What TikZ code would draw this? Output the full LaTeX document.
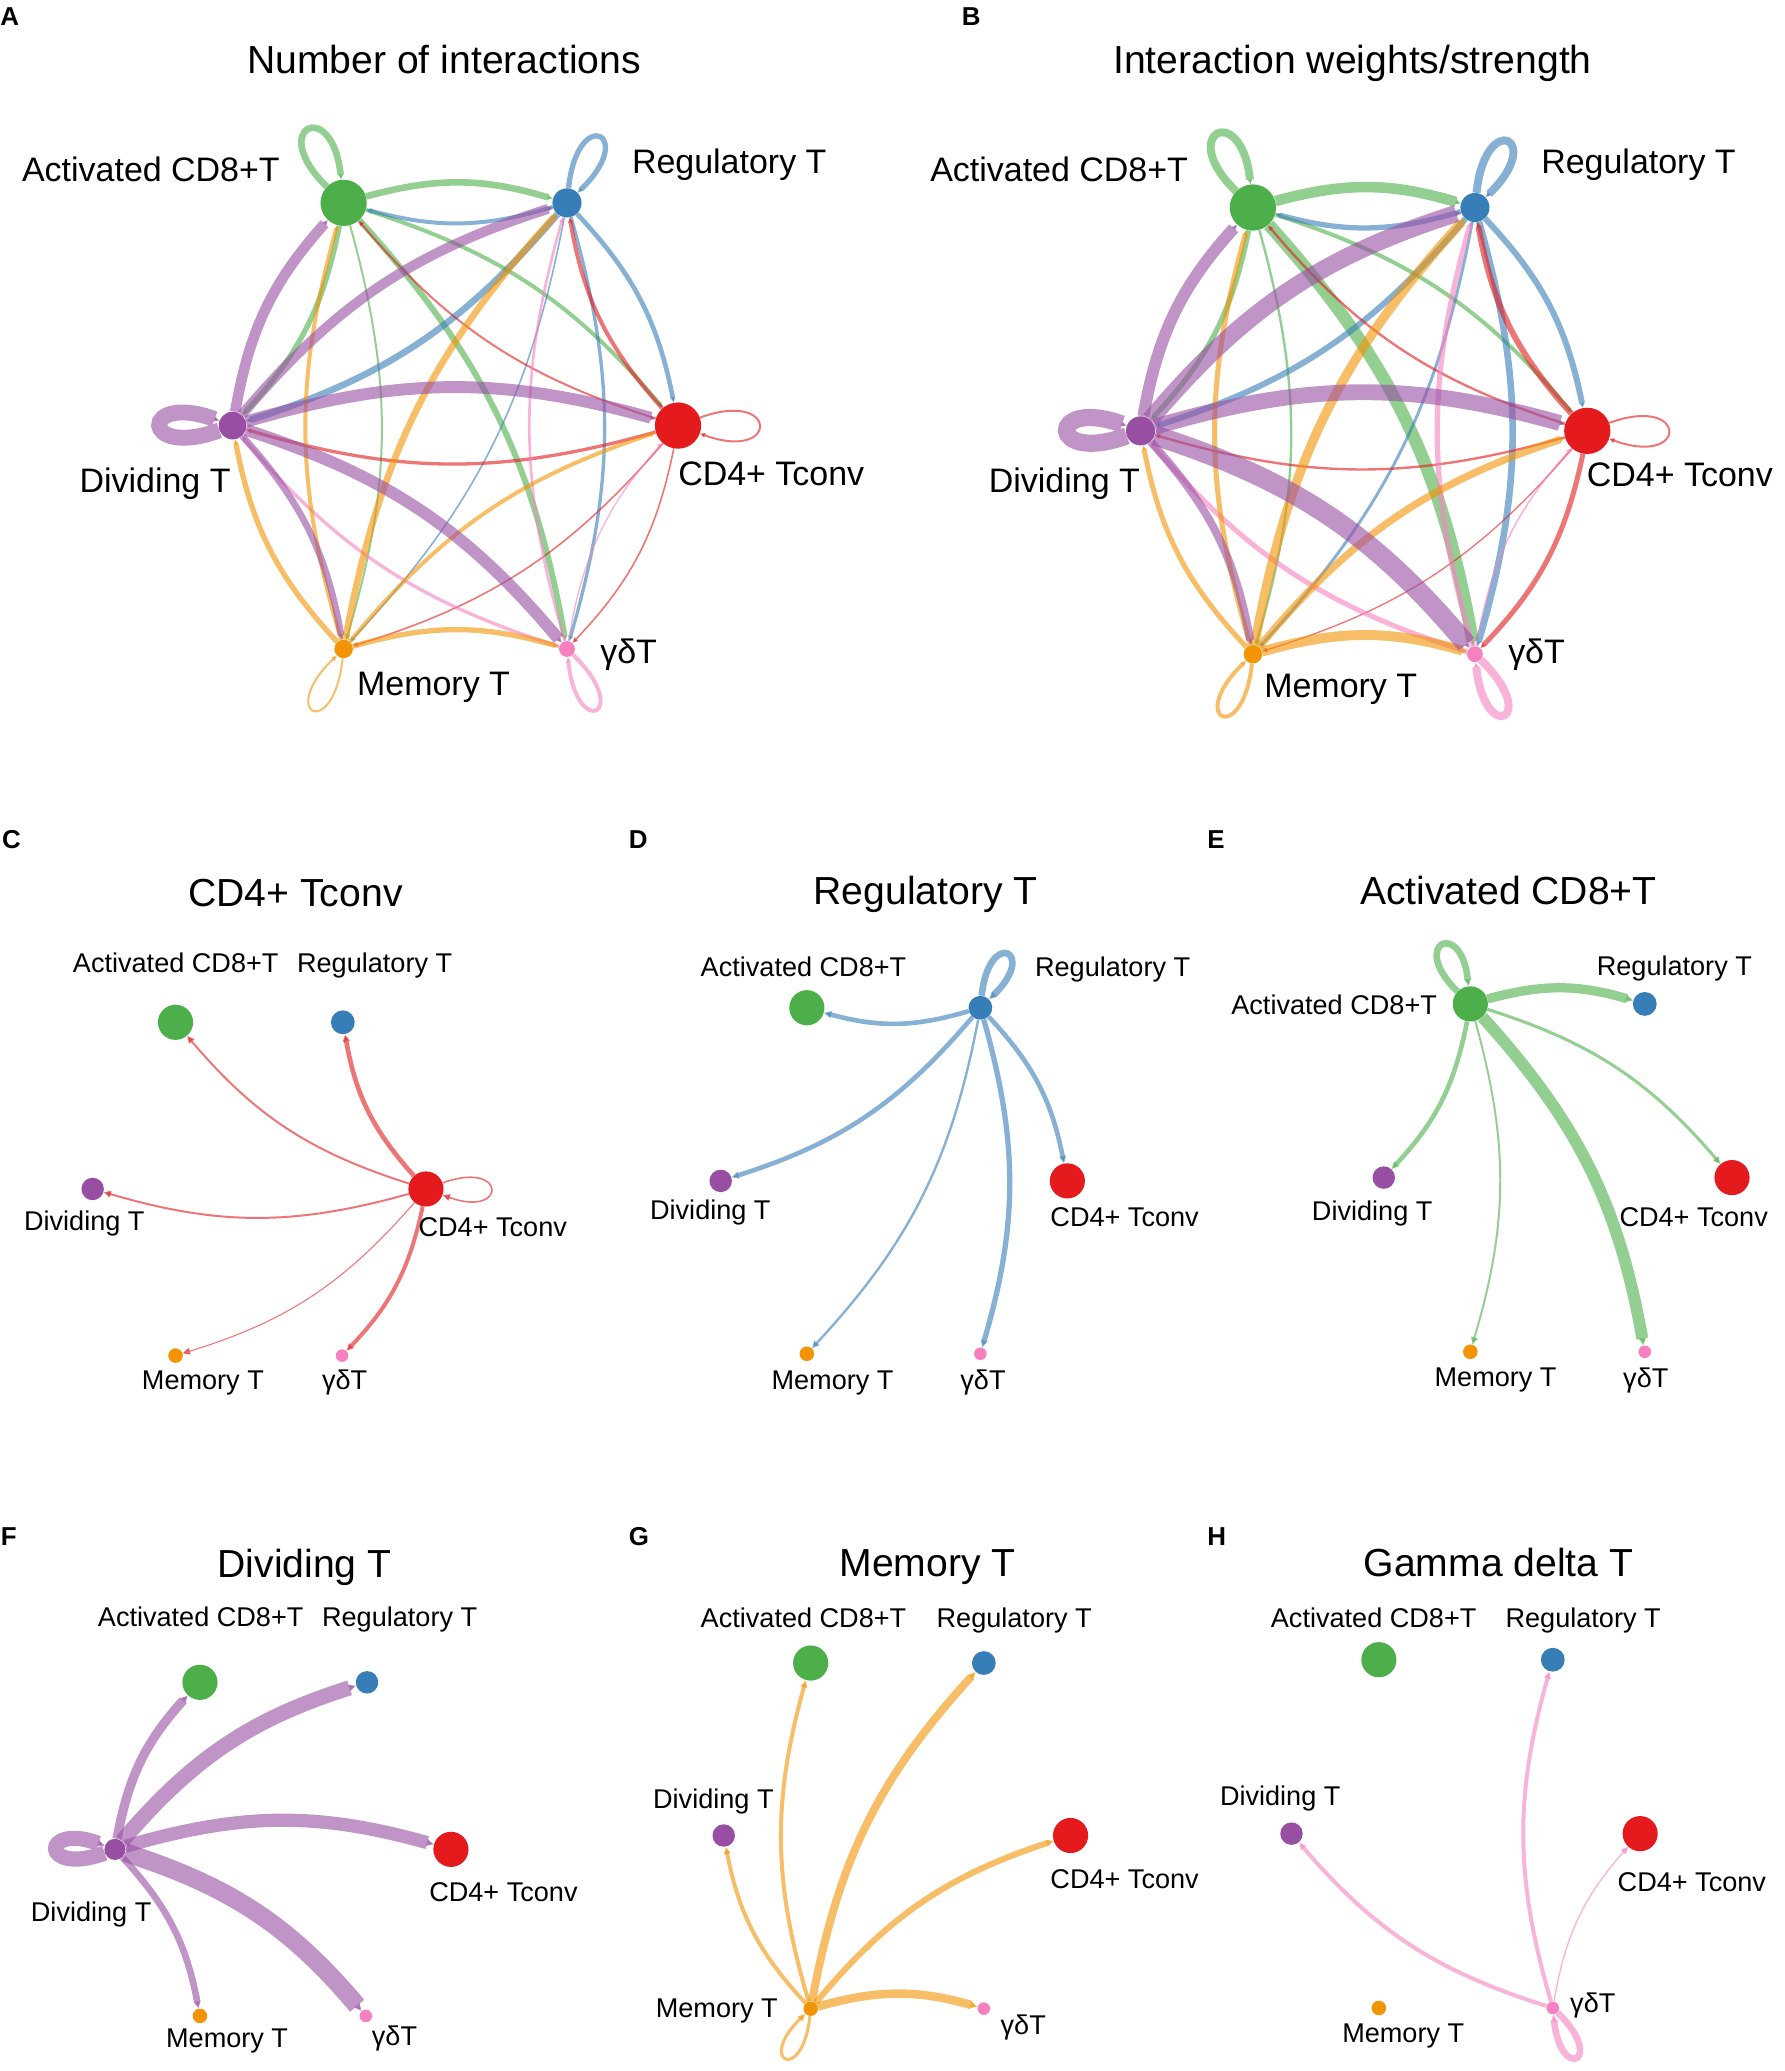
\documentclass[tikz,border=0pt]{standalone}
\usepackage{fontspec}
\setmainfont{Liberation Sans}
\usetikzlibrary{arrows.meta,backgrounds}

\definecolor{colCD8}{HTML}{4DAF4A}
\definecolor{colTreg}{HTML}{377EB8}
\definecolor{colCD4}{HTML}{E41A1C}
\definecolor{colDiv}{HTML}{984EA3}
\definecolor{colMem}{HTML}{F29403}
\definecolor{colGD}{HTML}{F781BF}

\tikzset{
  cell/.style={circle, inner sep=0pt, draw=none},
  biglab/.style={anchor=base west, inner sep=0pt, font=\fontsize{25.7}{30}\selectfont},
  lab/.style={anchor=base west, inner sep=0pt, font=\fontsize{20.5}{24}\selectfont},
  paneltitle/.style={anchor=base, inner sep=0pt, font=\fontsize{29.6}{34}\selectfont},
  panelletter/.style={anchor=base west, inner sep=0pt, font=\bfseries\fontsize{19.6}{22}\selectfont},
  link/.style={opacity=0.6, bend left=16, -{Triangle[length=4pt,width=3.5pt]}},
  slink/.style={opacity=0.6, bend left=16, -{Triangle[length=5.5pt,width=5pt]}},
  selfloop/.style={opacity=0.6, min distance=64pt, -{Triangle[length=4pt,width=3.5pt]}},
  sselfloop/.style={opacity=0.6, min distance=52pt, -{Triangle[length=5.5pt,width=5pt]}}
}

\begin{document}
\begin{tikzpicture}[x=1pt,y=1pt]
\useasboundingbox (0,0) rectangle (1350,-1567);

%%%%%%%%%%%%%%%% Panel A : Number of interactions
\node[cell, fill=colCD8, minimum size=35pt] (a-cd8) at (260,-153.5) {};
\node[cell, fill=colTreg, minimum size=22pt] (a-treg) at (429,-153.5) {};
\node[cell, fill=colCD4, minimum size=35pt] (a-cd4) at (513,-322) {};
\node[cell, fill=colGD, minimum size=12pt] (a-gd) at (429,-491) {};
\node[cell, fill=colMem, minimum size=14pt] (a-mem) at (260,-491) {};
\node[cell, fill=colDiv, minimum size=21pt] (a-div) at (176,-322) {};
% Text Node
\node[panelletter] (a-letter) at (0,-19.4) {A};
\node[paneltitle] (a-title) at (336,-55.7) {Number of interactions};
\node[biglab] (a-cd8-lab) at (16.5,-137.3) {Activated CD8+T};
\node[biglab] (a-treg-lab) at (478,-131.3) {Regulatory T};
\node[biglab] (a-cd4-lab) at (513,-367.3) {CD4+ Tconv};
\node[biglab] (a-div-lab) at (60,-372.3) {Dividing T};
\node[biglab] (a-mem-lab) at (270,-526.3) {Memory T};
\node[biglab] (a-gd-lab) at (454,-502.3) {γδT};

%%%%%%%%%%%%%%%% Panel B : Interaction weights/strength
\node[cell, fill=colCD8, minimum size=35pt] (b-cd8) at (948,-157) {};
\node[cell, fill=colTreg, minimum size=22pt] (b-treg) at (1116,-157) {};
\node[cell, fill=colCD4, minimum size=35pt] (b-cd4) at (1201,-326) {};
\node[cell, fill=colGD, minimum size=12pt] (b-gd) at (1116,-495) {};
\node[cell, fill=colMem, minimum size=14pt] (b-mem) at (948,-495) {};
\node[cell, fill=colDiv, minimum size=22pt] (b-div) at (863,-326) {};
% Text Node
\node[panelletter] (b-letter) at (727.5,-19.4) {B};
\node[paneltitle] (b-title) at (1023.4,-55.7) {Interaction weights/strength};
\node[biglab] (b-cd8-lab) at (703.7,-137.3) {Activated CD8+T};
\node[biglab] (b-treg-lab) at (1166,-131.3) {Regulatory T};
\node[biglab] (b-cd4-lab) at (1200.5,-368) {CD4+ Tconv};
\node[biglab] (b-div-lab) at (748,-372.3) {Dividing T};
\node[biglab] (b-mem-lab) at (956.4,-528) {Memory T};
\node[biglab] (b-gd-lab) at (1141,-502.3) {γδT};

%%%%%%%%%%%%%%%% Panel C : CD4+ Tconv
\node[cell, fill=colCD8, minimum size=26.6pt] (c-cd8) at (132.8,-773.5) {};
\node[cell, fill=colTreg, minimum size=18pt] (c-treg) at (259.4,-773.5) {};
\node[cell, fill=colCD4, minimum size=26.6pt] (c-cd4) at (322.3,-899.6) {};
\node[cell, fill=colGD, minimum size=9.5pt] (c-gd) at (258.8,-1025.7) {};
\node[cell, fill=colMem, minimum size=11pt] (c-mem) at (132.8,-1025.7) {};
\node[cell, fill=colDiv, minimum size=17pt] (c-div) at (70.1,-899.6) {};
% Text Node
\node[panelletter] (c-letter) at (1.5,-642.2) {C};
\node[paneltitle] (c-title) at (223.6,-686.2) {CD4+ Tconv};
\node[lab] (c-cd8-lab) at (55,-735.6) {Activated CD8+T};
\node[lab] (c-treg-lab) at (224.6,-735.6) {Regulatory T};
\node[lab] (c-div-lab) at (18,-930.7) {Dividing T};
\node[lab] (c-cd4-lab) at (316.5,-935.6) {CD4+ Tconv};
\node[lab] (c-mem-lab) at (107.2,-1051) {Memory T};
\node[lab] (c-gd-lab) at (243.5,-1051.6) {γδT};

%%%%%%%%%%%%%%%% Panel D : Regulatory T
\node[cell, fill=colCD8, minimum size=26.6pt] (d-cd8) at (610.5,-762.5) {};
\node[cell, fill=colTreg, minimum size=18pt] (d-treg) at (741.8,-762.5) {};
\node[cell, fill=colCD4, minimum size=26.6pt] (d-cd4) at (807.6,-893.5) {};
\node[cell, fill=colGD, minimum size=9.5pt] (d-gd) at (741.8,-1024.3) {};
\node[cell, fill=colMem, minimum size=11pt] (d-mem) at (610.5,-1024.3) {};
\node[cell, fill=colDiv, minimum size=17pt] (d-div) at (545.3,-893.5) {};
% Text Node
\node[panelletter] (d-letter) at (475.7,-642.2) {D};
\node[paneltitle] (d-title) at (700.4,-684.6) {Regulatory T};
\node[lab] (d-cd8-lab) at (530,-738.8) {Activated CD8+T};
\node[lab] (d-treg-lab) at (783,-738.8) {Regulatory T};
\node[lab] (d-div-lab) at (491.7,-922.9) {Dividing T};
\node[lab] (d-cd4-lab) at (794.6,-927.8) {CD4+ Tconv};
\node[lab] (d-mem-lab) at (583.6,-1051) {Memory T};
\node[lab] (d-gd-lab) at (726.5,-1051.6) {γδT};

%%%%%%%%%%%%%%%% Panel E : Activated CD8+T
\node[cell, fill=colCD8, minimum size=26.6pt] (e-cd8) at (1112.5,-759.6) {};
\node[cell, fill=colTreg, minimum size=18pt] (e-treg) at (1244.5,-759.6) {};
\node[cell, fill=colCD4, minimum size=26.6pt] (e-cd4) at (1310.5,-891) {};
\node[cell, fill=colGD, minimum size=9.5pt] (e-gd) at (1244.5,-1022.8) {};
\node[cell, fill=colMem, minimum size=11pt] (e-mem) at (1112.5,-1022.8) {};
\node[cell, fill=colDiv, minimum size=17pt] (e-div) at (1047,-891) {};
% Text Node
\node[panelletter] (e-letter) at (913.4,-642.2) {E};
\node[paneltitle] (e-title) at (1141.3,-684.6) {Activated CD8+T};
\node[lab] (e-cd8-lab) at (931.5,-767.5) {Activated CD8+T};
\node[lab] (e-treg-lab) at (1208,-737.9) {Regulatory T};
\node[lab] (e-div-lab) at (992.5,-923.4) {Dividing T};
\node[lab] (e-cd4-lab) at (1225.2,-927.8) {CD4+ Tconv};
\node[lab] (e-mem-lab) at (1085.3,-1049) {Memory T};
\node[lab] (e-gd-lab) at (1228,-1049.5) {γδT};

%%%%%%%%%%%%%%%% Panel F : Dividing T
\node[cell, fill=colCD8, minimum size=26.6pt] (f-cd8) at (151.3,-1272.9) {};
\node[cell, fill=colTreg, minimum size=17pt] (f-treg) at (277.7,-1272.9) {};
\node[cell, fill=colCD4, minimum size=26.6pt] (f-cd4) at (341.2,-1399.3) {};
\node[cell, fill=colGD, minimum size=9.5pt] (f-gd) at (276.8,-1525.3) {};
\node[cell, fill=colMem, minimum size=11pt] (f-mem) at (151.3,-1525.3) {};
\node[cell, fill=colDiv, minimum size=16pt] (f-div) at (87,-1399.3) {};
% Text Node
\node[panelletter] (f-letter) at (0.5,-1169.5) {F};
\node[paneltitle] (f-title) at (230.4,-1193.9) {Dividing T};
\node[lab] (f-cd8-lab) at (73.9,-1230.6) {Activated CD8+T};
\node[lab] (f-treg-lab) at (243.5,-1230.6) {Regulatory T};
\node[lab] (f-cd4-lab) at (324.6,-1438.9) {CD4+ Tconv};
\node[lab] (f-div-lab) at (23.2,-1453.5) {Dividing T};
\node[lab] (f-mem-lab) at (125.5,-1549.2) {Memory T};
\node[lab] (f-gd-lab) at (281.2,-1547.8) {γδT};

%%%%%%%%%%%%%%%% Panel G : Memory T
\node[cell, fill=colCD8, minimum size=26.6pt] (g-cd8) at (613.4,-1258.3) {};
\node[cell, fill=colTreg, minimum size=18pt] (g-treg) at (744.4,-1258.3) {};
\node[cell, fill=colCD4, minimum size=26.6pt] (g-cd4) at (810,-1388.8) {};
\node[cell, fill=colGD, minimum size=9.5pt] (g-gd) at (744.4,-1519.8) {};
\node[cell, fill=colMem, minimum size=11pt] (g-mem) at (613.4,-1519.8) {};
\node[cell, fill=colDiv, minimum size=17pt] (g-div) at (547.6,-1388.8) {};
% Text Node
\node[panelletter] (g-letter) at (475.7,-1169.5) {G};
\node[paneltitle] (g-title) at (701.8,-1193) {Memory T};
\node[lab] (g-cd8-lab) at (530,-1231.1) {Activated CD8+T};
\node[lab] (g-treg-lab) at (708.5,-1231.1) {Regulatory T};
\node[lab] (g-div-lab) at (494,-1368) {Dividing T};
\node[lab] (g-cd4-lab) at (794.6,-1429.2) {CD4+ Tconv};
\node[lab] (g-mem-lab) at (496,-1526.3) {Memory T};
\node[lab] (g-gd-lab) at (756.9,-1539.5) {γδT};

%%%%%%%%%%%%%%%% Panel H : Gamma delta T
\node[cell, fill=colCD8, minimum size=26.6pt] (h-cd8) at (1043.3,-1255.8) {};
\node[cell, fill=colTreg, minimum size=18pt] (h-treg) at (1174.9,-1255.8) {};
\node[cell, fill=colCD4, minimum size=26.6pt] (h-cd4) at (1241,-1387.4) {};
\node[cell, fill=colGD, minimum size=9.5pt] (h-gd) at (1174.9,-1519.3) {};
\node[cell, fill=colMem, minimum size=11pt] (h-mem) at (1043.3,-1519.3) {};
\node[cell, fill=colDiv, minimum size=17pt] (h-div) at (977.2,-1387.4) {};
% Text Node
\node[panelletter] (h-letter) at (913.4,-1169.5) {H};
\node[paneltitle] (h-title) at (1133.8,-1193) {Gamma delta T};
\node[lab] (h-cd8-lab) at (961.4,-1231.1) {Activated CD8+T};
\node[lab] (h-treg-lab) at (1139,-1231.1) {Regulatory T};
\node[lab] (h-div-lab) at (922.9,-1366.3) {Dividing T};
\node[lab] (h-cd4-lab) at (1223.8,-1431.4) {CD4+ Tconv};
\node[lab] (h-mem-lab) at (1015.4,-1545.1) {Memory T};
\node[lab] (h-gd-lab) at (1187.9,-1522.4) {γδT};

\begin{pgfonlayer}{background}
\fill[white] (0,0) rectangle (1350,-1567);

%%%% A edges
% from Activated CD8+T
\draw[link, colCD8, line width=5pt] (a-cd8) to (a-treg);
\draw[link, colCD8, line width=4pt] (a-cd8) to (a-div);
\draw[link, colCD8, line width=1.5pt] (a-cd8) to (a-mem);
\draw[link, colCD8, line width=4.5pt] (a-cd8) to (a-gd);
\draw[link, colCD8, line width=3pt] (a-cd8) to (a-cd4);
\draw[selfloop, colCD8, line width=5pt] (a-cd8) to[out=136,in=96] (a-cd8);
% from Regulatory T
\draw[link, colTreg, line width=3pt] (a-treg) to (a-cd8);
\draw[link, colTreg, line width=5pt] (a-treg) to (a-div);
\draw[link, colTreg, line width=1.2pt] (a-treg) to (a-mem);
\draw[link, colTreg, line width=2.5pt] (a-treg) to (a-gd);
\draw[link, colTreg, line width=3.5pt] (a-treg) to (a-cd4);
\draw[selfloop, colTreg, line width=4pt] (a-treg) to[out=84,in=44] (a-treg);
% from CD4+ Tconv
\draw[link, colCD4, line width=1.5pt] (a-cd4) to (a-cd8);
\draw[link, colCD4, line width=3pt] (a-cd4) to (a-treg);
\draw[link, colCD4, line width=2.5pt] (a-cd4) to (a-div);
\draw[link, colCD4, line width=1.2pt] (a-cd4) to (a-mem);
\draw[link, colCD4, line width=1.2pt] (a-cd4) to (a-gd);
\draw[selfloop, colCD4, line width=1.5pt] (a-cd4) to[out=20,in=-20] (a-cd4);
% from gamma delta T
\draw[link, colGD, line width=2pt] (a-gd) to (a-treg);
\draw[link, colGD, line width=2.5pt] (a-gd) to (a-div);
\draw[link, colGD, line width=1pt] (a-gd) to (a-cd4);
\draw[selfloop, colGD, line width=3pt] (a-gd) to[out=-44,in=-84] (a-gd);
% from Memory T
\draw[link, colMem, line width=3pt] (a-mem) to (a-cd8);
\draw[link, colMem, line width=5pt] (a-mem) to (a-treg);
\draw[link, colMem, line width=4pt] (a-mem) to (a-div);
\draw[link, colMem, line width=3pt] (a-mem) to (a-cd4);
\draw[link, colMem, line width=4pt] (a-mem) to (a-gd);
\draw[selfloop, colMem, line width=1.5pt] (a-mem) to[out=-96,in=-136] (a-mem);
% from Dividing T
\draw[link, colDiv, line width=8pt] (a-div) to (a-cd8);
\draw[link, colDiv, line width=7.5pt] (a-div) to (a-treg);
\draw[link, colDiv, line width=9pt] (a-div) to (a-cd4);
\draw[link, colDiv, line width=9pt] (a-div) to (a-gd);
\draw[link, colDiv, line width=5pt] (a-div) to (a-mem);
\draw[selfloop, colDiv, line width=12pt] (a-div) to[out=200,in=160] (a-div);

%%%% B edges
% from Activated CD8+T
\draw[link, colCD8, line width=8pt] (b-cd8) to (b-treg);
\draw[link, colCD8, line width=4pt] (b-cd8) to (b-div);
\draw[link, colCD8, line width=1.8pt] (b-cd8) to (b-mem);
\draw[link, colCD8, line width=9.5pt] (b-cd8) to (b-gd);
\draw[link, colCD8, line width=3pt] (b-cd8) to (b-cd4);
\draw[selfloop, colCD8, line width=6pt] (b-cd8) to[out=136,in=96] (b-cd8);
% from Regulatory T
\draw[link, colTreg, line width=4pt] (b-treg) to (b-cd8);
\draw[link, colTreg, line width=4.5pt] (b-treg) to (b-div);
\draw[link, colTreg, line width=2.2pt] (b-treg) to (b-mem);
\draw[link, colTreg, line width=5pt] (b-treg) to (b-gd);
\draw[link, colTreg, line width=4.5pt] (b-treg) to (b-cd4);
\draw[selfloop, colTreg, line width=6pt] (b-treg) to[out=84,in=44] (b-treg);
% from CD4+ Tconv
\draw[link, colCD4, line width=1.8pt] (b-cd4) to (b-cd8);
\draw[link, colCD4, line width=4.5pt] (b-cd4) to (b-treg);
\draw[link, colCD4, line width=1.8pt] (b-cd4) to (b-div);
\draw[link, colCD4, line width=1pt] (b-cd4) to (b-mem);
\draw[link, colCD4, line width=3.8pt] (b-cd4) to (b-gd);
\draw[selfloop, colCD4, line width=1.5pt] (b-cd4) to[out=20,in=-20] (b-cd4);
% from gamma delta T
\draw[link, colGD, line width=4pt] (b-gd) to (b-treg);
\draw[link, colGD, line width=3.8pt] (b-gd) to (b-div);
\draw[link, colGD, line width=1.2pt] (b-gd) to (b-cd4);
\draw[selfloop, colGD, line width=6pt] (b-gd) to[out=-44,in=-84] (b-gd);
% from Memory T
\draw[link, colMem, line width=3.8pt] (b-mem) to (b-cd8);
\draw[link, colMem, line width=7pt] (b-mem) to (b-treg);
\draw[link, colMem, line width=3.8pt] (b-mem) to (b-div);
\draw[link, colMem, line width=5.5pt] (b-mem) to (b-cd4);
\draw[link, colMem, line width=7.5pt] (b-mem) to (b-gd);
\draw[selfloop, colMem, line width=3pt] (b-mem) to[out=-96,in=-136] (b-mem);
% from Dividing T
\draw[link, colDiv, line width=9pt] (b-div) to (b-cd8);
\draw[link, colDiv, line width=13pt] (b-div) to (b-treg);
\draw[link, colDiv, line width=12pt] (b-div) to (b-cd4);
\draw[link, colDiv, line width=15pt] (b-div) to (b-gd);
\draw[link, colDiv, line width=6pt] (b-div) to (b-mem);
\draw[selfloop, colDiv, line width=13pt] (b-div) to[out=200,in=160] (b-div);

%%%% C edges (CD4+ Tconv)
\draw[slink, colCD4, line width=1.5pt] (c-cd4) to (c-cd8);
\draw[slink, colCD4, line width=3.5pt] (c-cd4) to (c-treg);
\draw[slink, colCD4, line width=1.5pt] (c-cd4) to (c-div);
\draw[slink, colCD4, line width=0.8pt] (c-cd4) to (c-mem);
\draw[slink, colCD4, line width=3pt] (c-cd4) to (c-gd);
\draw[sselfloop, colCD4, line width=1.2pt] (c-cd4) to[out=20,in=-20] (c-cd4);

%%%% D edges (Regulatory T)
\draw[slink, colTreg, line width=3.5pt] (d-treg) to (d-cd8);
\draw[slink, colTreg, line width=3.5pt] (d-treg) to (d-div);
\draw[slink, colTreg, line width=1.8pt] (d-treg) to (d-mem);
\draw[slink, colTreg, line width=4pt] (d-treg) to (d-gd);
\draw[slink, colTreg, line width=3.5pt] (d-treg) to (d-cd4);
\draw[sselfloop, colTreg, line width=5pt] (d-treg) to[out=84,in=44] (d-treg);

%%%% E edges (Activated CD8+T)
\draw[slink, colCD8, line width=7pt] (e-cd8) to (e-treg);
\draw[slink, colCD8, line width=3.5pt] (e-cd8) to (e-div);
\draw[slink, colCD8, line width=1.5pt] (e-cd8) to (e-mem);
\draw[slink, colCD8, line width=9pt] (e-cd8) to (e-gd);
\draw[slink, colCD8, line width=2.3pt] (e-cd8) to (e-cd4);
\draw[sselfloop, colCD8, line width=5pt] (e-cd8) to[out=136,in=96] (e-cd8);

%%%% F edges (Dividing T)
\draw[slink, colDiv, line width=7pt] (f-div) to (f-cd8);
\draw[slink, colDiv, line width=11.5pt] (f-div) to (f-treg);
\draw[slink, colDiv, line width=10pt] (f-div) to (f-cd4);
\draw[slink, colDiv, line width=14pt] (f-div) to (f-gd);
\draw[slink, colDiv, line width=5pt] (f-div) to (f-mem);
\draw[sselfloop, colDiv, line width=11.5pt] (f-div) to[out=200,in=160] (f-div);

%%%% G edges (Memory T)
\draw[slink, colMem, line width=3pt] (g-mem) to (g-cd8);
\draw[slink, colMem, line width=6pt] (g-mem) to (g-treg);
\draw[slink, colMem, line width=3pt] (g-mem) to (g-div);
\draw[slink, colMem, line width=4.6pt] (g-mem) to (g-cd4);
\draw[slink, colMem, line width=6.4pt] (g-mem) to (g-gd);
\draw[sselfloop, colMem, line width=2.3pt] (g-mem) to[out=-96,in=-136] (g-mem);

%%%% H edges (gamma delta T)
\draw[slink, colGD, line width=3pt] (h-gd) to (h-treg);
\draw[slink, colGD, line width=3pt] (h-gd) to (h-div);
\draw[slink, colGD, line width=1pt] (h-gd) to (h-cd4);
\draw[sselfloop, colGD, line width=5pt] (h-gd) to[out=-44,in=-84] (h-gd);
\end{pgfonlayer}

\end{tikzpicture}
\end{document}
